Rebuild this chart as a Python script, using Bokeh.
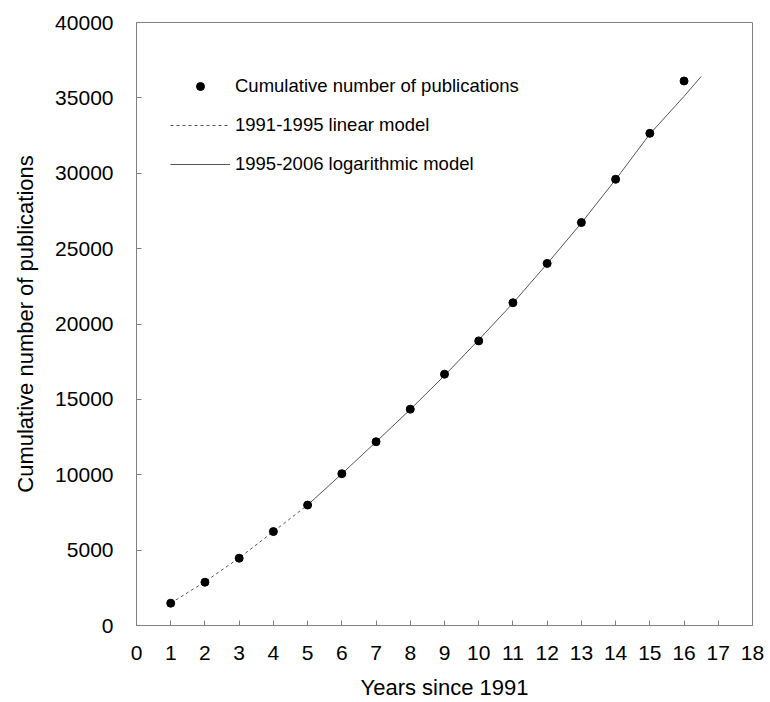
from bokeh.plotting import figure
from bokeh.models import Range1d, FixedTicker, Legend, LegendItem, BasicTickFormatter
from bokeh.embed import file_html
from bokeh.resources import INLINE

# Observed data
years = [1, 2, 3, 4, 5, 6, 7, 8, 9, 10, 11, 12, 13, 14, 15, 16]
cumulative = [1480, 2870, 4460, 6230, 7990, 10070, 12190, 14350,
              16670, 18880, 21410, 24020, 26730, 29600, 32650, 36120]

# Model curves
lin_x = [1, 2, 3, 4, 5]
lin_y = [1480, 2900, 4480, 6230, 7990]
log_x = [5, 6, 7, 8, 9, 10, 11, 12, 13, 14, 15, 16, 16.5]
log_y = [7990, 10060, 12180, 14330, 16580, 18950, 21380, 24000, 26700, 29580, 32600, 35100, 36420]

x_ticks = list(range(0, 19))
y_ticks = list(range(0, 40001, 5000))

FONT = "Liberation Sans"
GRAY = "#808080"

p = figure(width=770, height=702, output_backend="svg", toolbar_location=None,
           x_range=Range1d(0, 18), y_range=Range1d(0, 40000),
           min_border_left=136, min_border_right=18, min_border_top=22, min_border_bottom=76)
p.xgrid.visible = False
p.ygrid.visible = False
p.outline_line_color = GRAY
p.outline_line_width = 1

r_lin = p.line(lin_x, lin_y, line_color="#555555", line_width=1, line_dash="3 3")
r_log = p.line(log_x, log_y, line_color="#555555", line_width=1)
r_pts = p.scatter(years, cumulative, size=8, marker="circle", fill_color="black", line_color="black")

for ax in (p.xaxis[0], p.yaxis[0]):
    ax.axis_line_color = GRAY
    ax.major_tick_line_color = GRAY
    ax.major_tick_in = 5
    ax.major_tick_out = 0
    ax.minor_tick_line_color = None
    ax.major_label_text_font = FONT
    ax.major_label_text_font_size = "21px"
    ax.major_label_text_color = "black"
    ax.axis_label_text_font = FONT
    ax.axis_label_text_font_size = "22px"
    ax.axis_label_text_font_style = "normal"
    ax.axis_label_text_color = "black"

p.xaxis[0].ticker = FixedTicker(ticks=x_ticks)
p.yaxis[0].ticker = FixedTicker(ticks=y_ticks)
p.yaxis[0].formatter = BasicTickFormatter(use_scientific=False)
p.xaxis[0].major_label_standoff = 20
p.yaxis[0].major_label_standoff = 23
p.xaxis[0].axis_label = "Years since 1991"
p.yaxis[0].axis_label = "Cumulative number of publications"
p.xaxis[0].axis_label_standoff = 12
p.yaxis[0].axis_label_standoff = 14

legend = Legend(items=[
    LegendItem(label="Cumulative number of publications", renderers=[r_pts]),
    LegendItem(label="1991-1995 linear model", renderers=[r_lin]),
    LegendItem(label="1995-2006 logarithmic model", renderers=[r_log]),
], location=(34, 450), padding=0, margin=0, spacing=17,
   glyph_width=60, glyph_height=20, label_height=20, label_standoff=5,
   border_line_color=None, background_fill_alpha=0,
   label_text_font=FONT, label_text_font_size="18.5px", label_text_color="black")
p.add_layout(legend)

open("out.html", "w").write(file_html(p, INLINE))
